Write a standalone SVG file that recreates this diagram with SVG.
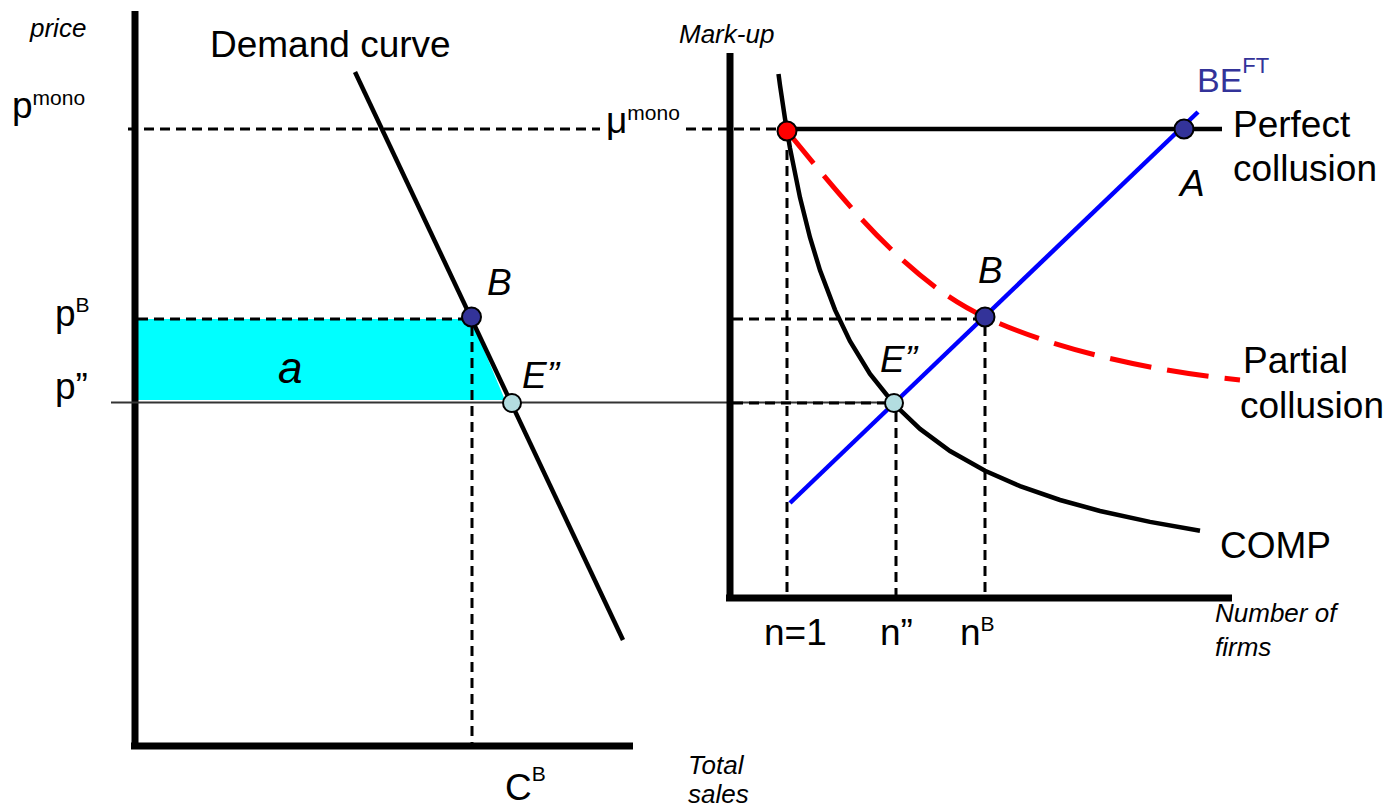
<svg xmlns="http://www.w3.org/2000/svg" width="1391" height="810" viewBox="0 0 1391 810">
<style>
text{font-family:"Liberation Sans",Arial,sans-serif;fill:#000}
.it{font-style:italic}
.lbl{font-size:37px}
.ax{font-size:26px;font-style:italic}
.sup{font-size:21px}
.axis{stroke:#000;stroke-width:7;fill:none}
.dash{stroke:#000;stroke-width:3;stroke-dasharray:10 6;fill:none}
.curve{stroke:#000;stroke-width:4.5;fill:none}
.dot{stroke:#000;stroke-width:2}
</style>
<rect width="1391" height="810" fill="#fff"/>
<g id="left-panel">
  <polygon id="area-a" points="138,319 471,319 505,400 138,400" fill="#00ffff"/>
  <line class="axis" x1="135" y1="11" x2="135" y2="749"/>
  <line class="axis" x1="131" y1="746" x2="633" y2="746"/>
  <text class="ax" x="30" y="37">price</text>
  <text class="ax" x="688" y="774">Total</text>
  <text class="ax" x="688" y="803">sales</text>
  <text class="lbl" x="12" y="118">p<tspan class="sup" dy="-13">mono</tspan></text>
  <text class="lbl" x="55" y="326">p<tspan class="sup" dy="-14">B</tspan></text>
  <text class="lbl" x="55" y="399">p”</text>
  <text class="lbl" x="505" y="800">C<tspan class="sup" dy="-19">B</tspan></text>
  <text class="it" x="278" y="383" font-size="44">a</text>
  <text class="lbl" x="210" y="57">Demand curve</text>
</g>
<g id="connectors">
  <line class="dash" x1="128" y1="129" x2="600" y2="129"/>
  <line class="dash" x1="686" y1="129" x2="780" y2="129"/>
  <line class="dash" x1="138" y1="319" x2="462" y2="319"/>
  <line class="dash" x1="472" y1="326" x2="472" y2="743"/>
  <line x1="111" y1="402.5" x2="893" y2="402.5" stroke="#333" stroke-width="1.8"/>
  <line class="dash" x1="733" y1="403" x2="886" y2="403"/>
  <line class="dash" x1="733" y1="319" x2="976" y2="319"/>
  <line class="dash" x1="787" y1="150" x2="787" y2="596"/>
  <line class="dash" x1="896" y1="412" x2="896" y2="596"/>
  <line class="dash" x1="985" y1="326" x2="985" y2="596"/>
  <line id="demand" class="curve" x1="355" y1="72" x2="623" y2="640"/>
  <polyline id="comp" class="curve" points="778.5,74 780,85.2 785,118.7 790,148.2 800,197.6 810,237.5 820,270.3 835,309.9 850,341.2 870,373.9 894,404 920,428.9 950,451 985,470.8 1020,486.1 1060,500 1100,511 1150,521.9 1200,530.7"/>
  <line id="perfect" class="curve" x1="787" y1="129" x2="1222" y2="129"/>
  <path id="partial" d="M787,131 C840,195 905,280 985,317 C1060,352 1160,372 1240,380" fill="none" stroke="#ff0000" stroke-width="5" stroke-dasharray="42 16"/>
  <line id="beft" x1="790" y1="503" x2="1198" y2="112" stroke="#0000ff" stroke-width="4.5"/>
</g>
<g id="right-panel">
  <line class="axis" x1="730" y1="53" x2="730" y2="601"/>
  <line class="axis" x1="726" y1="598" x2="1232" y2="598"/>
  <text class="ax" x="679" y="43">Mark-up</text>
  <text class="ax" x="1215" y="622">Number of</text>
  <text class="ax" x="1215" y="656">firms</text>
  <text class="lbl" x="606" y="133">μ<tspan class="sup" dy="-13">mono</tspan></text>
  <text class="lbl" x="764" y="645">n=1</text>
  <text class="lbl" x="880" y="645">n”</text>
  <text class="lbl" x="960" y="645">n<tspan class="sup" dy="-14">B</tspan></text>
  <text x="1197" y="92" font-size="34" style="fill:#333399">BE<tspan font-size="22" dy="-19">FT</tspan></text>
  <text class="lbl" x="1233" y="137">Perfect</text>
  <text class="lbl" x="1233" y="181">collusion</text>
  <text class="lbl" x="1243" y="373">Partial</text>
  <text class="lbl" x="1240" y="418">collusion</text>
  <text class="lbl" x="1220" y="558">COMP</text>
</g>
<g id="point-B-left">
  <circle class="dot" cx="471.5" cy="317" r="9.5" fill="#333399"/>
  <text class="lbl it" x="487" y="295">B</text>
</g>
<g id="point-E-left">
  <circle class="dot" cx="512" cy="403" r="9" fill="#b3dde0"/>
  <text class="lbl it" x="522" y="388">E”</text>
</g>
<g id="point-mono">
  <circle class="dot" cx="787" cy="131" r="9.5" fill="#ff0000"/>
</g>
<g id="point-A">
  <circle class="dot" cx="1184" cy="129" r="9.5" fill="#333399"/>
  <text class="lbl it" x="1180" y="196">A</text>
</g>
<g id="point-B-right">
  <circle class="dot" cx="985" cy="317" r="9.5" fill="#333399"/>
  <text class="lbl it" x="978" y="283">B</text>
</g>
<g id="point-E-right">
  <circle class="dot" cx="894" cy="403" r="9" fill="#b3dde0"/>
  <text class="lbl it" x="880" y="372">E”</text>
</g>
</svg>
